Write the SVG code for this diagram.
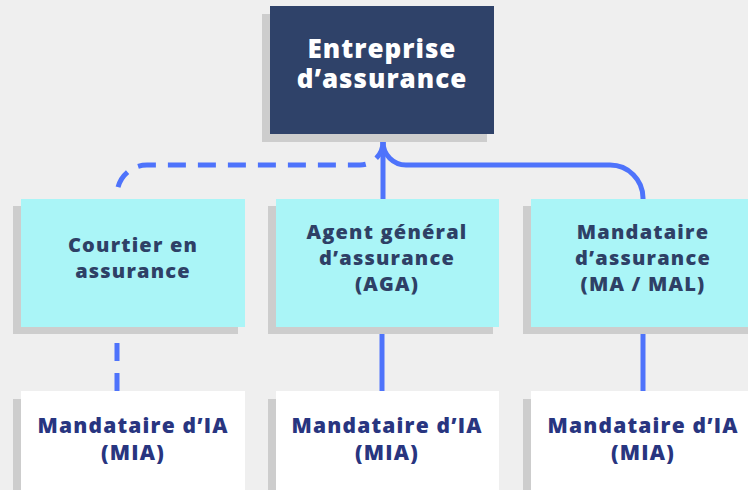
<svg xmlns="http://www.w3.org/2000/svg" width="748" height="490" viewBox="0 0 748 490">
<defs>
<style>
.shadow{fill:#cdcdcd}
.top{fill:#2f4269}
.mid{fill:#aaf5f7}
.bot{fill:#ffffff}
.t{font-family:"Open Sans","Liberation Sans",sans-serif;font-weight:800;text-anchor:middle}
.tw{fill:#ffffff;font-size:26px;letter-spacing:1px}
.tm{fill:#2e4066;font-size:20px;letter-spacing:1.2px}
.tb{fill:#283580;font-size:21px;letter-spacing:1.2px}
.c{fill:none;stroke:#4e73fb;stroke-width:5}
.d{stroke-dasharray:18 12}
</style>
</defs>
<rect width="748" height="490" fill="#efefef"/>
<g id="connectors">
<path class="c" d="M383,142 V199"/>
<path class="c" d="M383,142 A23 23 0 0 0 406 165 H610 A33 33 0 0 1 643 198 V200"/>
<path class="c d" d="M383,142 A23 23 0 0 1 360 165 H147 A30 30 0 0 0 117 195 V200"/>
<path class="c d" d="M117,391 V327"/>
<path class="c" d="M382,391 V327"/>
<path class="c" d="M643,391 V327"/>
</g>
<g id="entreprise">
<rect class="shadow" x="262" y="14" width="225" height="128"/>
<rect class="top" x="270" y="6" width="224" height="128"/>
<text class="t tw" x="382" y="58">Entreprise</text>
<text class="t tw" x="382" y="88">d’assurance</text>
</g>
<g id="courtier">
<rect class="shadow" x="13" y="206" width="225" height="128"/>
<rect class="mid" x="21" y="199" width="224" height="128"/>
<text class="t tm" x="133" y="252">Courtier en</text>
<text class="t tm" x="133" y="278">assurance</text>
</g>
<g id="aga">
<rect class="shadow" x="268" y="206" width="225" height="128"/>
<rect class="mid" x="276" y="199" width="223" height="128"/>
<text class="t tm" x="387" y="239">Agent général</text>
<text class="t tm" x="387" y="265">d’assurance</text>
<text class="t tm" x="387" y="291">(AGA)</text>
</g>
<g id="mandataire">
<rect class="shadow" x="523" y="206" width="225" height="128"/>
<rect class="mid" x="531" y="199" width="224" height="128"/>
<text class="t tm" x="643" y="239">Mandataire</text>
<text class="t tm" x="643" y="265">d’assurance</text>
<text class="t tm" x="643" y="291">(MA / MAL)</text>
</g>
<g id="mia1">
<rect class="shadow" x="13" y="399" width="225" height="128"/>
<rect class="bot" x="21" y="391" width="224" height="128"/>
<text class="t tb" x="133" y="433">Mandataire d’IA</text>
<text class="t tb" x="133" y="460">(MIA)</text>
</g>
<g id="mia2">
<rect class="shadow" x="268" y="399" width="225" height="128"/>
<rect class="bot" x="276" y="391" width="223" height="128"/>
<text class="t tb" x="387" y="433">Mandataire d’IA</text>
<text class="t tb" x="387" y="460">(MIA)</text>
</g>
<g id="mia3">
<rect class="shadow" x="523" y="399" width="225" height="128"/>
<rect class="bot" x="531" y="391" width="224" height="128"/>
<text class="t tb" x="643" y="433">Mandataire d’IA</text>
<text class="t tb" x="643" y="460">(MIA)</text>
</g>
</svg>
